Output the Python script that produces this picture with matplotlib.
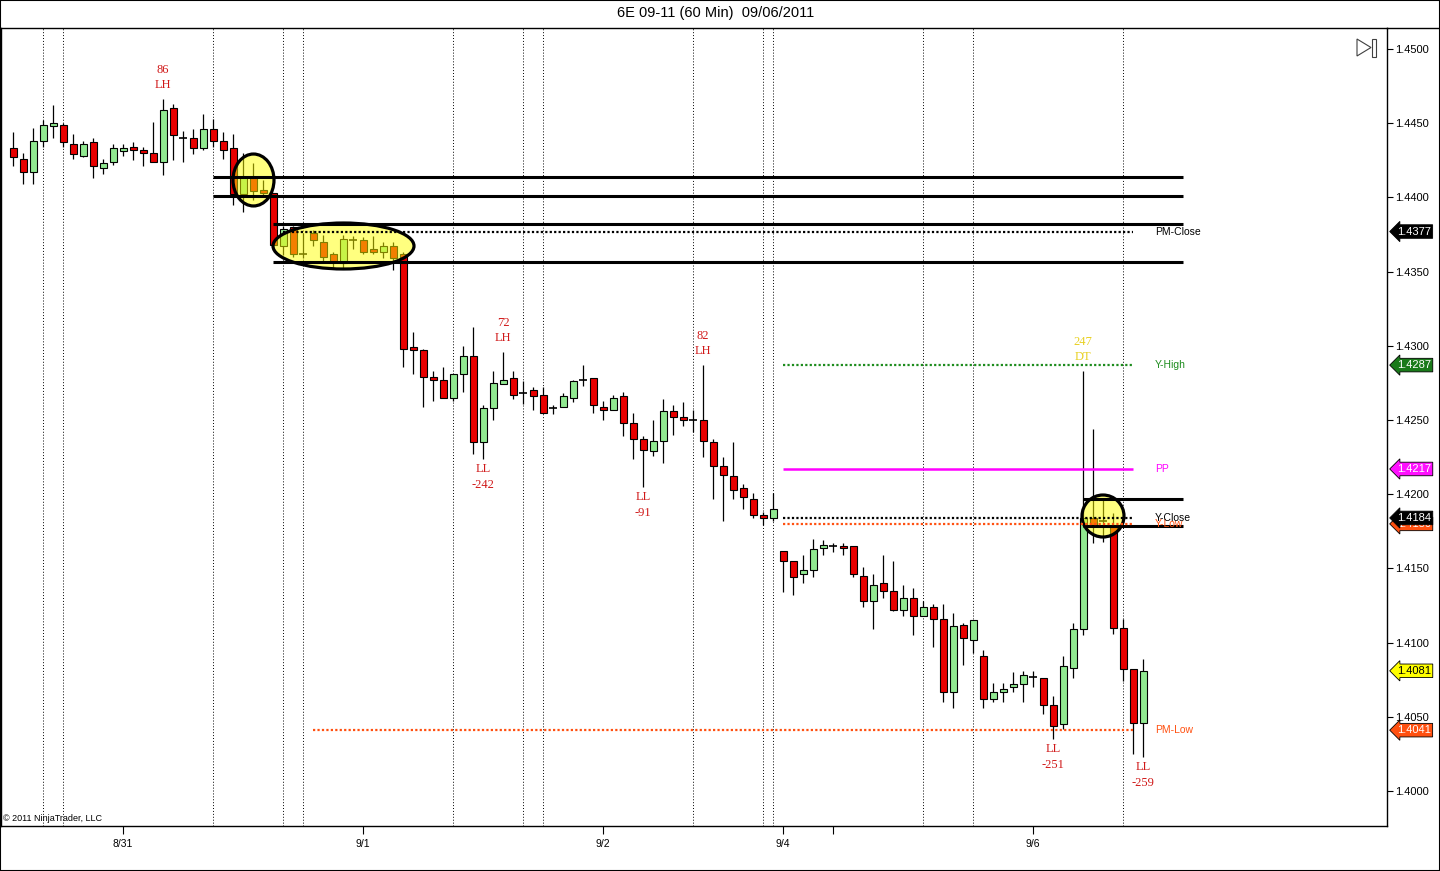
import matplotlib
matplotlib.use('Agg')
import matplotlib.pyplot as plt
import matplotlib.patches as mpatches
import matplotlib.transforms as mtransforms
import numpy as np

plt.rcParams['font.family'] = ['Liberation Sans', 'DejaVu Sans']

# 60 min bars, 6E 09-11
opens = [1.4433, 1.4426, 1.4417, 1.4438, 1.4448, 1.4449, 1.4436, 1.4428, 1.4437, 1.4420,
         1.4424, 1.4431, 1.4434, 1.4432, 1.4430, 1.4424, 1.4460, 1.4440, 1.4440, 1.4433,
         1.4446, 1.4438, 1.4433, 1.4402, 1.4413, 1.4405, 1.4403, 1.4367, 1.4380, 1.4362,
         1.4376, 1.4370, 1.4362, 1.4356, 1.4371, 1.4371, 1.4365, 1.4363, 1.4367, 1.4362,
         1.4299, 1.4297, 1.4279, 1.4277, 1.4265, 1.4281, 1.4293, 1.4235, 1.4258, 1.4274,
         1.4278, 1.4268, 1.4270, 1.4267, 1.4258, 1.4259, 1.4265, 1.4277, 1.4278, 1.4259,
         1.4257, 1.4266, 1.4248, 1.4237, 1.4229, 1.4236, 1.4256, 1.4252, 1.4250, 1.4250,
         1.4235, 1.4219, 1.4212, 1.4204, 1.4197, 1.4186, 1.4184, 1.4162, 1.4155, 1.4146,
         1.4149, 1.4164, 1.4165, 1.4165, 1.4165, 1.4145, 1.4128, 1.4140, 1.4135, 1.4122,
         1.4130, 1.4118, 1.4124, 1.4116, 1.4067, 1.4112, 1.4102, 1.4091, 1.4062, 1.4067,
         1.4070, 1.4072, 1.4077, 1.4076, 1.4058, 1.4045, 1.4083, 1.4109, 1.4184, 1.4182,
         1.4178, 1.4110, 1.4082, 1.4046]
highs = [1.4444, 1.4430, 1.4447, 1.4452, 1.4462, 1.4450, 1.4443, 1.4438, 1.4440, 1.4426,
         1.4436, 1.4436, 1.4437, 1.4434, 1.4451, 1.4466, 1.4463, 1.4445, 1.4446, 1.4456,
         1.4453, 1.4444, 1.4443, 1.4430, 1.4423, 1.4412, 1.4403, 1.4381, 1.4381, 1.4376,
         1.4378, 1.4375, 1.4363, 1.4375, 1.4374, 1.4373, 1.4374, 1.4370, 1.4370, 1.4363,
         1.4309, 1.4298, 1.4283, 1.4286, 1.4281, 1.4300, 1.4313, 1.4260, 1.4283, 1.4296,
         1.4283, 1.4276, 1.4272, 1.4272, 1.4260, 1.4268, 1.4277, 1.4287, 1.4278, 1.4263,
         1.4267, 1.4269, 1.4255, 1.4239, 1.4250, 1.4264, 1.4260, 1.4262, 1.4257, 1.4287,
         1.4237, 1.4225, 1.4235, 1.4207, 1.4201, 1.4188, 1.4201, 1.4162, 1.4155, 1.4159,
         1.4170, 1.4169, 1.4167, 1.4167, 1.4165, 1.4151, 1.4146, 1.4159, 1.4155, 1.4139,
         1.4137, 1.4128, 1.4126, 1.4126, 1.4120, 1.4113, 1.4115, 1.4095, 1.4073, 1.4073,
         1.4080, 1.4081, 1.4081, 1.4076, 1.4064, 1.4091, 1.4113, 1.4283, 1.4244, 1.4196,
         1.4187, 1.4116, 1.4082, 1.4089]
lows = [1.4421, 1.4409, 1.4409, 1.4434, 1.4440, 1.4434, 1.4426, 1.4427, 1.4413, 1.4416,
        1.4422, 1.4428, 1.4425, 1.4421, 1.4424, 1.4415, 1.4425, 1.4424, 1.4429, 1.4432,
        1.4434, 1.4426, 1.4395, 1.4390, 1.4398, 1.4401, 1.4367, 1.4361, 1.4360, 1.4359,
        1.4367, 1.4356, 1.4352, 1.4352, 1.4365, 1.4362, 1.4362, 1.4359, 1.4351, 1.4286,
        1.4281, 1.4259, 1.4263, 1.4265, 1.4263, 1.4269, 1.4227, 1.4224, 1.4250, 1.4274,
        1.4264, 1.4261, 1.4257, 1.4255, 1.4254, 1.4259, 1.4262, 1.4273, 1.4255, 1.4250,
        1.4257, 1.4239, 1.4224, 1.4205, 1.4226, 1.4221, 1.4240, 1.4246, 1.4242, 1.4225,
        1.4197, 1.4182, 1.4197, 1.4190, 1.4184, 1.4179, 1.4182, 1.4134, 1.4132, 1.4140,
        1.4144, 1.4159, 1.4161, 1.4159, 1.4144, 1.4124, 1.4109, 1.4130, 1.4121, 1.4118,
        1.4105, 1.4118, 1.4097, 1.4060, 1.4056, 1.4085, 1.4093, 1.4056, 1.4060, 1.4060,
        1.4067, 1.4060, 1.4070, 1.4052, 1.4035, 1.4042, 1.4076, 1.4105, 1.4167, 1.4168,
        1.4106, 1.4074, 1.4025, 1.4023]
closes = [1.4427, 1.4417, 1.4438, 1.4449, 1.4450, 1.4437, 1.4429, 1.4436, 1.4421, 1.4423,
          1.4433, 1.4433, 1.4432, 1.4430, 1.4424, 1.4459, 1.4442, 1.4440, 1.4433, 1.4446,
          1.4438, 1.4432, 1.4402, 1.4414, 1.4404, 1.4403, 1.4368, 1.4379, 1.4362, 1.4362,
          1.4371, 1.4360, 1.4357, 1.4372, 1.4371, 1.4363, 1.4363, 1.4367, 1.4359, 1.4298,
          1.4297, 1.4279, 1.4277, 1.4265, 1.4281, 1.4293, 1.4235, 1.4258, 1.4275, 1.4277,
          1.4267, 1.4268, 1.4266, 1.4255, 1.4258, 1.4266, 1.4276, 1.4277, 1.4260, 1.4257,
          1.4265, 1.4248, 1.4237, 1.4230, 1.4236, 1.4256, 1.4252, 1.4250, 1.4250, 1.4236,
          1.4219, 1.4213, 1.4203, 1.4198, 1.4186, 1.4184, 1.4190, 1.4155, 1.4144, 1.4149,
          1.4163, 1.4166, 1.4165, 1.4164, 1.4146, 1.4128, 1.4139, 1.4135, 1.4122, 1.4130,
          1.4118, 1.4124, 1.4116, 1.4067, 1.4111, 1.4103, 1.4115, 1.4062, 1.4067, 1.4069,
          1.4072, 1.4078, 1.4077, 1.4058, 1.4044, 1.4084, 1.4109, 1.4184, 1.4179, 1.4182,
          1.4110, 1.4082, 1.4046, 1.4081]

# session separators (bar index)
session_bars = [3, 5, 20, 27, 29, 44, 51, 53, 68, 75, 76, 91, 96, 111]

# date axis
date_pos = [11, 35, 59, 77, 82, 102]
date_labels = ['8/31', '9/1', '9/2', '9/4', '', '9/6']

# key levels: name, price, colour, start bar
level_names = ['PM-Close', 'Y-High', 'PP', 'Y-Low', 'Y-Close', 'PM-Low']
level_prices = [1.4377, 1.4287, 1.4217, 1.4180, 1.4184, 1.4041]
level_colors = ['black', '#1E8C1E', '#FF00FF', '#FF5010', 'black', '#FF5010']
level_start = [27, 77, 77, 77, 77, 30]
level_styles = [':', ':', '-', ':', ':', ':']

# hand drawn support / resistance lines
sr_prices = [1.44137, 1.44009, 1.43821, 1.43565, 1.41966, 1.41786]
sr_start = [20, 20, 26, 26, 107, 107]

# swing labels: bar, text top, text bottom, above/below
swings = [(15, '86', 'LH', 'high', '#D01818'),
          (49, '72', 'LH', 'high', '#D01818'),
          (69, '82', 'LH', 'high', '#D01818'),
          (107, '247', 'DT', 'high', '#E8D020'),
          (47, 'LL', '-242', 'low', '#D01818'),
          (63, 'LL', '-91', 'low', '#D01818'),
          (104, 'LL', '-251', 'low', '#D01818'),
          (113, 'LL', '-259', 'low', '#D01818')]

# price tags on the axis
tag_prices = [1.4377, 1.4287, 1.4217, 1.4180, 1.4184, 1.4081, 1.4041]
tag_colors = ['black', '#1A7A1A', '#FF10FF', '#FF5010', 'black', '#FFFF00', '#FF5010']
tag_text_colors = ['white', 'white', 'white', 'white', 'white', 'black', 'white']

W, H = 1440, 871
fig = plt.figure(figsize=(W / 100, H / 100), dpi=100)
fig.patch.set_facecolor('white')
ax = fig.add_axes([1 / W, 45 / H, 1386 / W, 798 / H])

n = len(opens)
idx = np.arange(n)
o = np.array(opens)
c = np.array(closes)

# wicks
ax.vlines(idx, lows, highs, color='black', lw=0.9, zorder=2)
# bodies
up = c > o
down = c < o
doji = c == o
ax.bar(idx[up], (c - o)[up], bottom=o[up], width=0.7, color='#90E890',
       edgecolor='black', lw=0.8, zorder=3)
ax.bar(idx[down], (o - c)[down], bottom=c[down], width=0.7, color='#E80000',
       edgecolor='black', lw=0.8, zorder=3)
ax.hlines(o[doji], idx[doji] - 0.4, idx[doji] + 0.4, color='black', lw=1.2, zorder=3)

for b in session_bars:
    ax.axvline(b, color='black', lw=0.7, ls=(0, (1, 2)), zorder=1)

# highlight ellipses
for (cx, cy, w, h) in [(24.05, 1.441173, 4.1, 0.00350),
                       (33.05, 1.436725, 14.1, 0.00310),
                       (109.0, 1.418531, 4.2, 0.00283)]:
    ax.add_patch(mpatches.Ellipse((cx, cy), w, h, facecolor=(1, 1, 0, 0.5),
                                  edgecolor='black', lw=2.3, zorder=4))

for p, s in zip(sr_prices, sr_start):
    ax.hlines(p, s, 117, color='black', lw=2.2, zorder=5)

for name, p, col, s, st in zip(level_names, level_prices, level_colors, level_start, level_styles):
    if st == '-':
        ax.hlines(p, s, 112, color=col, lw=1.8, zorder=5)
    else:
        ax.hlines(p, s, 112, color=col, lw=1.6, ls=(0, (1, 1)), zorder=5)
    ax.text(114.2, p, name, color=col, fontsize=7.5, va='center', ha='left', zorder=6)

for b, t1, t2, where, col in swings:
    if where == 'high':
        y = highs[b]
        ax.annotate(t2, (b, y), xytext=(0, 8), textcoords='offset pixels', ha='center',
                    va='bottom', fontsize=9, color=col, family='Liberation Serif')
        ax.annotate(t1, (b, y), xytext=(0, 23), textcoords='offset pixels', ha='center',
                    va='bottom', fontsize=9, color=col, family='Liberation Serif')
    else:
        y = lows[b]
        ax.annotate(t1, (b, y), xytext=(0, -4), textcoords='offset pixels', ha='center',
                    va='top', fontsize=9, color=col, family='Liberation Serif')
        ax.annotate(t2, (b, y), xytext=(0, -20), textcoords='offset pixels', ha='center',
                    va='top', fontsize=9, color=col, family='Liberation Serif')

ax.set_xlim(-1.2, 137.4)
ax.set_ylim(1.397642, 1.451415)
ax.yaxis.tick_right()
ax.set_yticks(np.arange(1.4000, 1.45001, 0.005))
ax.set_yticklabels(['%.4f' % v for v in np.arange(1.4000, 1.45001, 0.005)], fontsize=8)
ax.tick_params(axis='y', length=4, width=0.8, pad=2)
ax.set_xticks(date_pos)
ax.set_xticklabels(date_labels, fontsize=7.5)
ax.tick_params(axis='x', length=6, width=0.8, pad=3)
for sp in ax.spines.values():
    sp.set_linewidth(1)

trans = mtransforms.blended_transform_factory(ax.transAxes, ax.transData)
for p, col, tc in zip(tag_prices, tag_colors, tag_text_colors):
    ax.text(1.0072, p, '%.4f' % p, transform=trans, fontsize=8, color=tc, ha='left',
            va='center', clip_on=False, zorder=10,
            bbox=dict(boxstyle='larrow,pad=0.16', fc=col, ec='black', lw=0.6))

# figure furniture
fig.add_artist(plt.Line2D([1387 / W, 1], [1 - 28 / H, 1 - 28 / H], color='black', lw=1))
fig.add_artist(mpatches.Rectangle((0, 0), 1, 1, transform=fig.transFigure, fill=False,
                                  ec='black', lw=1.5))
fig.text(716 / W, 1 - 13 / H, '6E 09-11 (60 Min)  09/06/2011', ha='center', va='center',
         fontsize=10.5)
fig.text(3 / W, 1 - 818 / H, '\u00a9 2011 NinjaTrader, LLC', ha='left', va='center',
         fontsize=6.5)
tri = mpatches.Polygon([[1357 / W, 1 - 39 / H], [1357 / W, 1 - 56 / H], [1371 / W, 1 - 47.5 / H]],
                       closed=True, fill=False, ec='#404040', lw=0.8, transform=fig.transFigure)
fig.add_artist(tri)
fig.add_artist(mpatches.Rectangle((1372 / W, 1 - 57 / H), 4 / W, 18 / H, fill=False,
                                  ec='#404040', lw=0.8, transform=fig.transFigure))

fig.savefig('out.png', dpi=100)
